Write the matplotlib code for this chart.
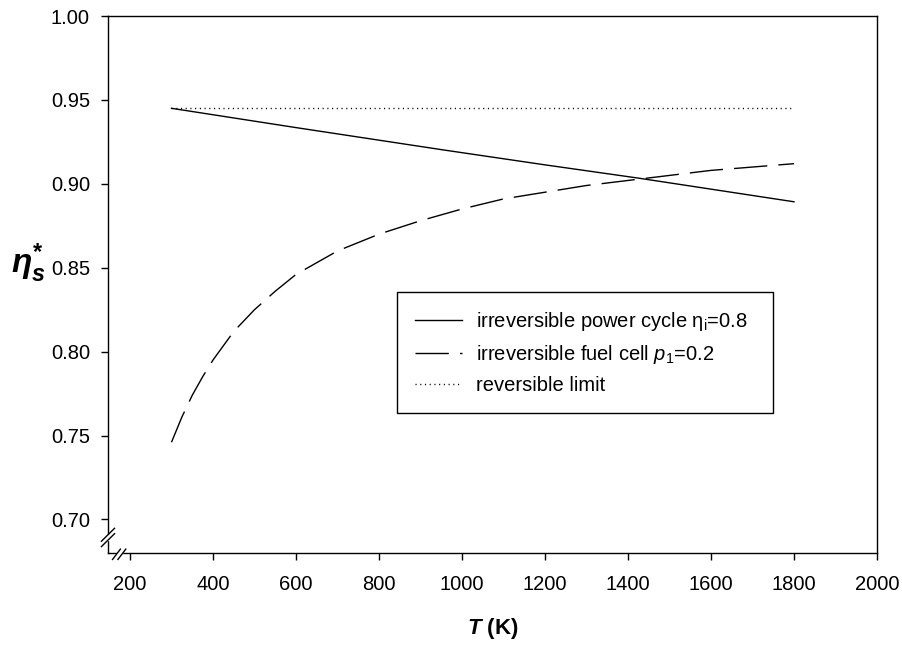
import matplotlib
matplotlib.use('Agg')
import matplotlib.pyplot as plt

plt.rcParams['font.family'] = ['Liberation Sans', 'DejaVu Sans']
plt.rcParams['mathtext.fontset'] = 'custom'
plt.rcParams['mathtext.rm'] = 'Liberation Sans'
plt.rcParams['mathtext.it'] = 'Liberation Sans:italic:bold'
plt.rcParams['mathtext.bf'] = 'Liberation Sans:bold'
plt.rcParams['mathtext.sf'] = 'Liberation Sans:italic'

# power cycle, eta_i = 0.8
T_cycle = [300, 600, 955, 1200, 1425, 1800]
eta_cycle = [0.945, 0.9335, 0.9202, 0.9113, 0.9034, 0.8893]

# fuel cell, p1 = 0.2
T_cell = [300, 325, 350, 375, 400, 450, 500, 550, 600, 650, 700, 750, 800,
          900, 1000, 1100, 1200, 1300, 1400, 1500, 1600, 1700, 1800]
eta_cell = [0.746, 0.761, 0.774, 0.785, 0.795, 0.812, 0.825, 0.836, 0.846,
            0.853, 0.860, 0.865, 0.870, 0.878, 0.885, 0.891, 0.895, 0.899,
            0.902, 0.905, 0.908, 0.910, 0.912]

# reversible limit
T_rev = [300, 1800]
eta_rev = [0.945, 0.945]

x_ticks = [200, 400, 600, 800, 1000, 1200, 1400, 1600, 1800, 2000]
y_ticks = [0.70, 0.75, 0.80, 0.85, 0.90, 0.95, 1.00]

fig = plt.figure(figsize=(9.03, 6.48), dpi=100)
ax = fig.add_axes([0.1196, 0.1466, 0.8516, 0.8287])

ax.plot(T_cycle, eta_cycle, color='black', lw=1.0,
        label=r'irreversible power cycle η$_{\mathrm{i}}$=0.8')
ax.plot(T_cell, eta_cell, color='black', lw=1.0, dashes=(24, 8),
        label=r'irreversible fuel cell $\mathsf{p}_{\mathrm{1}}$=0.2')
ax.plot(T_rev, eta_rev, color='black', lw=1.0, dashes=(0.8, 2.6),
        label='reversible limit')

ax.set_xlim(147, 2000)
ax.set_ylim(0.68, 1.00)
ax.set_xticks(x_ticks)
ax.set_yticks(y_ticks)
ax.set_yticklabels(['%.2f' % v for v in y_ticks])
ax.tick_params(direction='out', length=5, width=1, labelsize=14.5, pad=8)
ax.tick_params(axis='x', pad=11)
for s in ax.spines.values():
    s.set_linewidth(1.0)

ax.set_xlabel(r'$T$ (K)', fontsize=16, fontweight='bold')
ax.xaxis.set_label_coords(0.5, -0.14)
ax.xaxis.label.set_va('center')
ax.set_ylabel(r'$\eta_{s}^{\mathbf{*}}$', fontsize=24, rotation=0)
ax.yaxis.set_label_coords(-0.103, 0.54)
ax.yaxis.label.set_va('center')
ax.yaxis.label.set_ha('center')

leg = ax.legend(loc='upper left', bbox_to_anchor=(0.376, 0.486, 0.489, 0.0),
                mode='expand', fontsize=14.5, frameon=True, fancybox=False,
                edgecolor='black', framealpha=1, handlelength=2.3,
                handletextpad=0.7, labelspacing=0.5, borderpad=0.9,
                borderaxespad=0)
leg.get_frame().set_linewidth(1.0)

# axis break marks near the lower-left corner (two parallel strokes, spine cut between)
dx, dy = 0.0085, 0.012
# left spine
for yc in (0.024, 0.034):
    ax.plot([-dx, dx], [yc - dy, yc + dy], transform=ax.transAxes,
            color='black', lw=1.0, clip_on=False, zorder=5)
ax.plot([0, 0], [0.026, 0.032], transform=ax.transAxes, color='white',
        lw=2.5, clip_on=False, zorder=4)
# bottom spine
for xc in (0.011, 0.018):
    ax.plot([xc - dx * 0.6, xc + dx * 0.6], [-dy, dy * 0.6],
            transform=ax.transAxes, color='black', lw=1.0, clip_on=False,
            zorder=5)
ax.plot([0.0125, 0.0165], [0, 0], transform=ax.transAxes, color='white',
        lw=2.5, clip_on=False, zorder=4)

fig.savefig('out.png', dpi=100)
